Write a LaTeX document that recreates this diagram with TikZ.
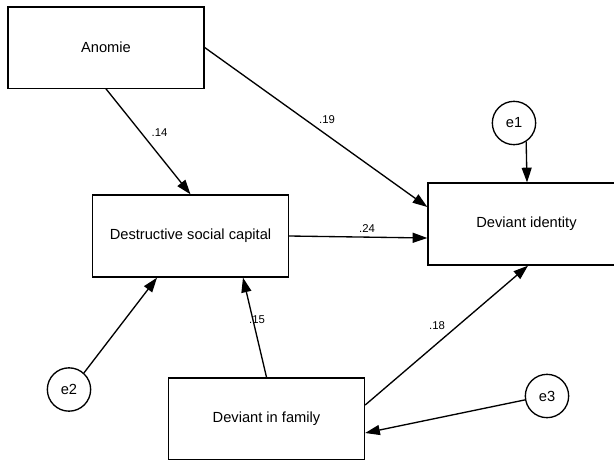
\documentclass[tikz,border=0pt]{standalone}
\usepackage{fontspec}
\setmainfont{Liberation Sans}
\usetikzlibrary{arrows.meta,calc}

\tikzset{every picture/.style={line width=1pt}}
\tikzset{
  varbox/.style={draw, rectangle, line width=1pt, minimum width=147pt, minimum height=61pt, inner sep=0pt, font=\fontsize{11}{13}\selectfont},
  errcirc/.style={draw, circle, line width=1pt, minimum size=32.5pt, inner sep=0pt, font=\fontsize{11}{13}\selectfont},
  coef/.style={inner sep=0.75pt, font=\fontsize{8.5}{10}\selectfont},
  path/.style={line width=1pt, -{Triangle[length=11pt,width=7.5pt]}}
}

\begin{document}
\begin{tikzpicture}[x=0.75pt,y=0.75pt,yscale=-1,xscale=1]
\useasboundingbox (0,0) rectangle (614,461);
\clip (0,0) rectangle (614,461);

%Shape: Rectangle [id:anomie] 
\node [varbox] (anom) at (106,47.5) {Anomie};
%Shape: Rectangle [id:capital] 
\node [varbox, minimum height=61.5pt] (dsc) at (190.5,236) {Destructive social capital};
%Shape: Rectangle [id:identity] 
\node [varbox, minimum height=61.5pt, minimum width=153pt] (di) at (530,224) {};
\node [font=\fontsize{11}{13}\selectfont] (dit) at (526.5,224) {Deviant identity};
%Shape: Rectangle [id:family] 
\node [varbox] (dif) at (266.5,418.5) {Deviant in family};

%Shape: Circle [id:e1] 
\node [errcirc] (e1) at (514,123) {e1};
%Shape: Circle [id:e2] 
\node [errcirc] (e2) at (69,389.5) {e2};
%Shape: Circle [id:e3] 
\node [errcirc] (e3) at (547,396) {e3};

%Straight Lines [id:anom-dsc] 
\draw [path] (anom.south) -- (dsc.north) ;
%Straight Lines [id:anom-di] 
\draw [path] (anom.east) -- ($(di.west)+(0,-17)$) ;
%Straight Lines [id:dsc-di] 
\draw [path] (dsc.east) -- ($(di.west)+(0,14)$) ;
%Straight Lines [id:e1-di] 
\draw [path] (e1.-57) -- ($(di.north)+(-3,0)$) ;
%Straight Lines [id:e2-dsc] 
\draw [path] (e2.48) -- ($(dsc.south)+(-33.5,0)$) ;
%Straight Lines [id:dif-dsc] 
\draw [path] (dif.north) -- ($(dsc.south)+(52.5,0)$) ;
%Straight Lines [id:dif-di] 
\draw [path] ($(dif.east)+(0,-13.5)$) -- ($(di.south)+(-2,0)$) ;
%Straight Lines [id:e3-dif] 
\draw [path] (e3.190) -- ($(dif.east)+(0,14.5)$) ;

% Text Node
\node [coef] (c14) at (159.5,133) {.14};
% Text Node
\node [coef] (c19) at (327,120) {.19};
% Text Node
\node [coef] (c24) at (367,228.5) {.24};
% Text Node
\node [coef] (c15) at (257,320) {.15};
% Text Node
\node [coef] (c18) at (437,326) {.18};

\end{tikzpicture}
\end{document}
